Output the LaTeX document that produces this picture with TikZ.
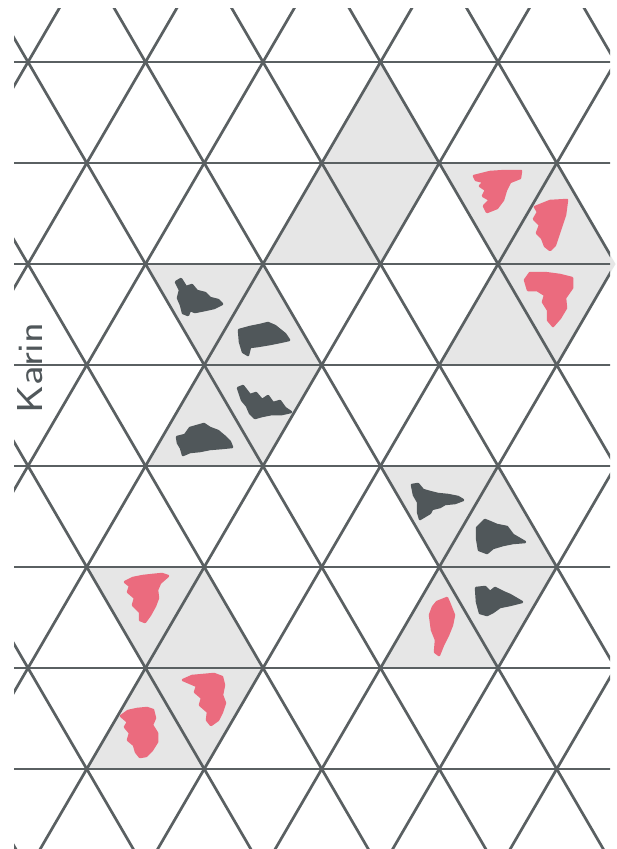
\documentclass[tikz,border=0pt]{standalone}
\usepackage{fontspec}
\definecolor{gridc}{HTML}{5A6062}
\definecolor{shade}{HTML}{E6E6E6}
\definecolor{redm}{HTML}{EB6B7E}
\definecolor{darkm}{HTML}{50575A}
\begin{document}
\begin{tikzpicture}[x=1pt,y=-1pt,
  gridline/.style={draw=gridc,line width=2.7pt},
  cell/.style={fill=shade},
  redmark/.style={fill=redm,draw=redm,line width=2.5pt,line join=round},
  darkmark/.style={fill=darkm,draw=darkm,line width=2.5pt,line join=round}]
\useasboundingbox[fill=white] (0,0) rectangle (616,849);
\foreach \k in {0,...,7}{\foreach \i in {-1,...,6}{
  \pgfmathsetmacro\xx{28+117.5*\i+58.75*mod(\k,2)}
  \pgfmathsetmacro\yy{62+101*\k}
  \coordinate (v\k-\i) at (\xx,\yy);
}}
% shaded cells
% top middle
\path[cell] (v0-3) -- (v1-2) -- (v1-3) -- cycle;
\path[cell] (v1-2) -- (v1-3) -- (v2-3) -- cycle;
\path[cell] (v1-2) -- (v2-2) -- (v2-3) -- cycle;
% top right
\path[cell] (v1-3) -- (v1-4) -- (v2-4) -- cycle;
\path[cell] (v1-4) -- (v2-4) -- (v2-5) -- cycle;
\path[cell] (v2-4) -- (v2-5) -- (v3-4) -- cycle;
\path[cell] (v2-4) -- (v3-3) -- (v3-4) -- cycle;
% left dark
\path[cell] (v2-1) -- (v2-2) -- (v3-1) -- cycle;
\path[cell] (v2-2) -- (v3-1) -- (v3-2) -- cycle;
\path[cell] (v3-1) -- (v3-2) -- (v4-2) -- cycle;
\path[cell] (v3-1) -- (v4-1) -- (v4-2) -- cycle;
% right dark
\path[cell] (v4-3) -- (v4-4) -- (v5-3) -- cycle;
\path[cell] (v4-4) -- (v5-3) -- (v5-4) -- cycle;
\path[cell] (v5-3) -- (v5-4) -- (v6-4) -- cycle;
\path[cell] (v5-3) -- (v6-3) -- (v6-4) -- cycle;
% bottom left
\path[cell] (v5-0) -- (v5-1) -- (v6-1) -- cycle;
\path[cell] (v5-1) -- (v6-1) -- (v6-2) -- cycle;
\path[cell] (v6-1) -- (v6-2) -- (v7-1) -- cycle;
\path[cell] (v6-1) -- (v7-0) -- (v7-1) -- cycle;
% grid
\begin{scope}
\clip (14,8) rectangle (610,849);
\foreach \k in {0,...,7}{\draw[gridline] (0,{62+101*\k}) -- (616,{62+101*\k});}
\foreach \i in {-8,...,6}{\draw[gridline] ({28+117.5*\i-58.75},-39) -- ({28+117.5*\i+58.75*8},870);}
\foreach \i in {0,...,14}{\draw[gridline] ({28+117.5*\i+58.75},-39) -- ({28+117.5*\i-58.75*8},870);}
\end{scope}
% red marks top right
\path[redmark] (474,176) -- (490,172) -- (505,171) -- (521,171) -- (520,178) -- (510,182) -- (506,190) -- (503,200) -- (497,208) -- (487,212) -- (484,206) -- (490,200) -- (483,196) -- (486,190) -- (480,186) -- (484,182) -- (476,180) -- cycle;
\path[redmark] (535,207) -- (550,201) -- (567,200) -- (565,215) -- (560,230) -- (555,245) -- (550,250) -- (545,246) -- (542,238) -- (537,233) -- (540,225) -- (534,219) -- (538,212) -- cycle;
\path[redmark] (525,280) -- (530,273) -- (545,273) -- (560,275) -- (572,278) -- (572,288) -- (565,298) -- (566,308) -- (560,318) -- (553,326) -- (548,320) -- (548,310) -- (543,302) -- (545,295) -- (537,290) -- (528,290) -- cycle;
% dark marks left
\path[darkmark] (176,282) -- (181,279) -- (186,287) -- (192,285) -- (197,291) -- (205,293) -- (210,298) -- (218,300) -- (222,304) -- (214,308) -- (205,310) -- (195,312) -- (190,310) -- (188,315) -- (183,313) -- (181,305) -- (178,298) -- (180,290) -- cycle;
\path[darkmark] (239,330) -- (250,327) -- (260,325) -- (268,323) -- (275,326) -- (280,330) -- (285,334) -- (289,340) -- (280,342) -- (270,344) -- (258,346) -- (250,347) -- (248,355) -- (243,352) -- (240,342) -- cycle;
\path[darkmark] (238,388) -- (243,386) -- (250,395) -- (256,393) -- (262,400) -- (268,396) -- (273,403) -- (280,401) -- (285,408) -- (291,412) -- (282,414) -- (272,414) -- (262,416) -- (255,418) -- (250,413) -- (247,406) -- (242,400) -- cycle;
\path[darkmark] (177,437) -- (185,435) -- (190,428) -- (197,426) -- (204,424) -- (210,428) -- (218,431) -- (224,436) -- (230,442) -- (232,447) -- (222,448) -- (210,449) -- (200,451) -- (190,452) -- (183,455) -- (181,448) -- (178,443) -- cycle;
% dark marks right
\path[darkmark] (412,485) -- (418,484) -- (423,490) -- (430,492) -- (438,494) -- (448,495) -- (458,497) -- (463,500) -- (455,503) -- (445,504) -- (440,507) -- (432,509) -- (430,513) -- (425,516) -- (420,519) -- (418,512) -- (418,502) -- (414,495) -- cycle;
\path[darkmark] (477,528) -- (485,520) -- (490,522) -- (497,525) -- (507,527) -- (513,535) -- (525,542) -- (513,543) -- (503,545) -- (493,548) -- (487,553) -- (479,550) -- (477,538) -- cycle;
\path[darkmark] (476,588) -- (485,587) -- (490,592) -- (495,588) -- (503,592) -- (510,595) -- (522,602) -- (510,605) -- (500,607) -- (493,612) -- (487,615) -- (480,613) -- (477,602) -- cycle;
\path[redmark] (437,602) -- (447,598) -- (450,605) -- (454,615) -- (452,625) -- (448,635) -- (443,645) -- (439,655) -- (435,652) -- (436,640) -- (432,630) -- (430,615) -- (433,607) -- cycle;
% red marks bottom left
\path[redmark] (125,582) -- (133,578) -- (143,576) -- (152,575) -- (162,574) -- (168,576) -- (160,583) -- (157,590) -- (158,598) -- (155,606) -- (150,615) -- (145,622) -- (140,620) -- (140,612) -- (133,605) -- (135,598) -- (128,592) -- (130,586) -- cycle;
\path[redmark] (183,680) -- (192,676) -- (203,675) -- (214,674) -- (222,677) -- (224,685) -- (222,695) -- (225,703) -- (222,712) -- (218,720) -- (211,725) -- (207,720) -- (208,712) -- (200,705) -- (202,698) -- (195,692) -- (197,686) -- cycle;
\path[redmark] (121,716) -- (128,711) -- (137,709) -- (147,708) -- (153,710) -- (155,718) -- (152,725) -- (157,733) -- (157,742) -- (152,750) -- (146,756) -- (140,757) -- (136,752) -- (134,745) -- (128,740) -- (130,733) -- (125,727) -- (128,722) -- cycle;
% signature
\node[rotate=90,text=darkm,font=\sffamily\fontsize{36}{36}\selectfont,inner sep=0pt] (sig) at (30,368) {\scalebox{1.2}[1]{Karin}};
\end{tikzpicture}
\end{document}
